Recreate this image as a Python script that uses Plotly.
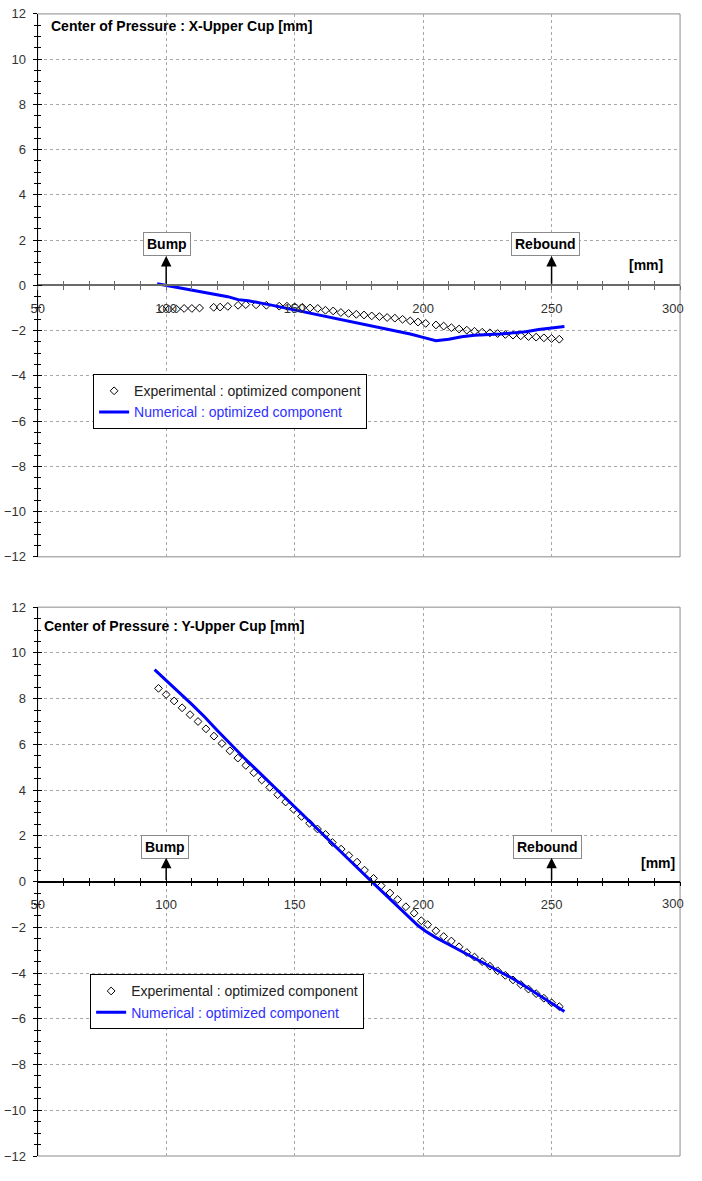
import plotly.graph_objects as go

# ---------------- data ----------------
# Top chart: X-Upper Cup
exp_x_top = [98.5, 101, 104, 107, 110, 113, 118.5, 121, 124, 128, 131, 135, 139, 144, 147, 150, 153, 156, 159,
             162, 165, 168, 171, 174, 177, 180, 183, 186, 189, 192, 195, 198, 201, 205, 208, 211, 214, 217, 220,
             223, 226, 229, 232, 235, 238, 241, 244, 247, 250, 253]
exp_y_top = [-1.05, -1.05, -1.05, -1.02, -1.02, -1.0, -0.97, -0.96, -0.93, -0.88, -0.85, -0.86, -0.88, -0.92, -0.92,
             -0.95, -0.97, -1.0, -1.02, -1.1, -1.13, -1.2, -1.24, -1.28, -1.31, -1.35, -1.38, -1.42, -1.45, -1.5,
             -1.57, -1.62, -1.68, -1.75, -1.8, -1.87, -1.93, -1.98, -2.03, -2.07, -2.1, -2.13, -2.17, -2.2, -2.23,
             -2.26, -2.29, -2.32, -2.35, -2.38]
num_x_top = [96.5, 100, 105, 110, 115, 120, 124, 128, 132, 140, 150, 160, 170, 175, 180, 185, 190, 195, 200, 205,
             210, 215, 220, 225, 230, 235, 240, 245, 250, 255]
num_y_top = [0.07, 0.0, -0.12, -0.22, -0.32, -0.42, -0.5, -0.63, -0.68, -0.85, -1.09, -1.33, -1.55, -1.66, -1.8,
             -1.93, -2.03, -2.15, -2.3, -2.45, -2.38, -2.27, -2.2, -2.18, -2.15, -2.1, -2.05, -1.95, -1.87, -1.82]

# Bottom chart: Y-Upper Cup
exp_x_bot = [97, 100, 103.1, 106.2, 109.3, 112.4, 115.5, 118.6, 121.7, 124.8, 127.9, 131, 134.1, 137.2, 140.3,
             143.4, 146.5, 149.6, 152.7, 155.8, 158.9, 162, 164.7, 168.1, 171.1, 174.3, 177.2, 180.7, 183.7,
             187.1, 190.1, 193.3, 196.5, 199.3, 201.8, 205, 208, 211, 214, 217, 220, 223, 226, 229, 232, 235,
             238, 241, 244, 247, 250, 253]
exp_y_bot = [8.45, 8.18, 7.9, 7.6, 7.3, 7.0, 6.68, 6.36, 6.04, 5.72, 5.4, 5.08, 4.76, 4.44, 4.12, 3.8, 3.48, 3.16,
             2.85, 2.55, 2.3, 2.06, 1.71, 1.42, 1.14, 0.85, 0.5, 0.14, -0.18, -0.5, -0.78, -1.1, -1.38, -1.71,
             -1.88, -2.15, -2.4, -2.6, -2.85, -3.1, -3.3, -3.5, -3.7, -3.9, -4.1, -4.3, -4.5, -4.7, -4.9, -5.1,
             -5.3, -5.47]
num_x_bot = [95.5, 100, 105, 110, 115, 120, 130, 140, 150, 158, 165, 170, 175, 180, 185, 190, 195, 198, 201, 205,
             210, 215, 220, 225, 230, 235, 240, 245, 250, 255]
num_y_bot = [9.27, 8.8, 8.3, 7.75, 7.2, 6.6, 5.45, 4.35, 3.25, 2.38, 1.63, 1.08, 0.54, 0.0, -0.54, -1.07, -1.6,
             -1.92, -2.17, -2.45, -2.75, -3.05, -3.35, -3.65, -3.95, -4.25, -4.6, -4.95, -5.3, -5.68]

titles = ["Center of Pressure : X-Upper Cup [mm]", "Center of Pressure : Y-Upper Cup [mm]"]
exp_name = "Experimental : optimized component"
num_name = "Numerical : optimized component"
x_range = [50, 300]
y_range = [-12, 12]
x_tick_vals = [50, 100, 150, 200, 250, 300]
x_tick_text = ["50", "100", "150", "200", "250", ""]   # "300" drawn as edge label below
x_edge_label = "300"
y_tick_vals = [-12, -10, -8, -6, -4, -2, 0, 2, 4, 6, 8, 10, 12]
marker_labels = ["Bump", "Rebound"]
marker_x = [100, 250]

# ---------------- style ----------------
FONT = "Liberation Sans, Arial, sans-serif"
W, H = 686, 1165          # page body has 8px default margin -> 702 x 1181 page
XDOM = [31 / W, 680 / W]
YDOMS = [[1 - 557 / H, 1 - 7 / H], [1 - 1164 / H, 1 - 608 / H]]
GRID = "#a8a8a8"
TICKC = "#333333"
BLUE = "#0000ff"

fig = go.Figure()

panels = [
    dict(xs="x", ys="y", xt="x3", xi="x4", yi="y3", leg="legend",
         ex=exp_x_top, ey=exp_y_top, nx=num_x_top, ny=num_y_top,
         axc="#6a6a6a", axw=2, tx=0.017, ty=0.978, mmx=294, mmy=0.9,
         boxy=1.85, heady=1.3, boxx=[100.3, 247.6], lblshift=-23),
    dict(xs="x2", ys="y2", xt="x5", xi="x6", yi="y4", leg="legend2",
         ex=exp_x_bot, ey=exp_y_bot, nx=num_x_bot, ny=num_y_bot,
         axc="#000000", axw=1.5, tx=0.006, ty=0.966, mmx=298.8, mmy=0.8,
         boxy=1.53, heady=1.04, boxx=[99.5, 248.4], lblshift=-22),
]

def lk(a):
    return "xaxis" + a[1:] if a.startswith("x") else "yaxis" + a[1:]

layout = dict(
    width=W, height=H, margin=dict(l=0, r=0, t=0, b=0),
    paper_bgcolor="white", plot_bgcolor="white",
    font=dict(family=FONT, size=13, color=TICKC),
    showlegend=True,
)
annotations = []
shapes = []

for i, p in enumerate(panels):
    ydom = YDOMS[i]
    mid = (ydom[0] + ydom[1]) / 2
    fig.add_trace(go.Scatter(
        x=p["ex"], y=p["ey"], mode="markers", name=exp_name,
        marker=dict(symbol="diamond-open", size=6, color="black", line=dict(width=1, color="black")),
        xaxis=p["xs"], yaxis=p["ys"], legend=p["leg"]))
    fig.add_trace(go.Scatter(
        x=p["nx"], y=p["ny"], mode="lines",
        name="<span style='color:#3030ff'>" + num_name + "</span>",
        line=dict(color=BLUE, width=3),
        xaxis=p["xs"], yaxis=p["ys"], legend=p["leg"]))
    for xa, ya in [(p["xt"], p["ys"]), (p["xi"], p["ys"]), (p["xs"], p["yi"])]:
        fig.add_trace(go.Scatter(x=[None], y=[None], xaxis=xa, yaxis=ya, showlegend=False,
                                 hoverinfo="skip", mode="markers"))

    layout[lk(p["xs"])] = dict(
        domain=XDOM, range=x_range, anchor=p["ys"], tickvals=x_tick_vals,
        showgrid=True, gridcolor=GRID, griddash="3px,3px", gridwidth=1,
        showticklabels=False, ticks="", showline=False, zeroline=False)
    layout[lk(p["ys"])] = dict(
        domain=ydom, range=y_range, anchor=p["xs"], tickvals=y_tick_vals,
        showgrid=True, gridcolor=GRID, griddash="3px,3px", gridwidth=1,
        showline=True, linecolor="black", linewidth=1, zeroline=False,
        ticks="outside", ticklen=4, tickcolor="black", tickwidth=1,
        minor=dict(dtick=0.5, ticks="outside", ticklen=3, tickcolor="black", showgrid=False),
        tickfont=dict(family=FONT, size=13, color=TICKC), ticklabelstandoff=4)
    layout[lk(p["yi"])] = dict(
        overlaying=p["ys"], range=y_range, anchor=p["xs"], side="left", tickvals=y_tick_vals,
        showgrid=False, showline=False, zeroline=False, showticklabels=False,
        ticks="inside", ticklen=4, tickcolor="black",
        minor=dict(dtick=0.5, ticks="inside", ticklen=3, tickcolor="black", showgrid=False))
    layout[lk(p["xt"])] = dict(
        overlaying=p["xs"], anchor="free", position=mid, range=x_range, side="bottom",
        tickvals=x_tick_vals, ticktext=x_tick_text, showgrid=False, zeroline=False,
        showline=True, linecolor=p["axc"], linewidth=p["axw"],
        ticks="outside", ticklen=4, tickcolor=p["axc"], tickwidth=1,
        minor=dict(dtick=10, ticks="outside", ticklen=4, tickcolor=p["axc"], showgrid=False),
        tickfont=dict(family=FONT, size=13, color=TICKC), ticklabelstandoff=7)
    layout[lk(p["xi"])] = dict(
        overlaying=p["xs"], anchor="free", position=mid, range=x_range, side="bottom",
        tickvals=x_tick_vals, showgrid=False, zeroline=False, showline=False, showticklabels=False,
        ticks="inside", ticklen=4, tickcolor=p["axc"], tickwidth=1,
        minor=dict(dtick=10, ticks="inside", ticklen=4, tickcolor=p["axc"], showgrid=False))

    shapes.append(dict(type="rect", xref=p["xs"] + " domain", yref=p["ys"] + " domain",
                       x0=0, x1=1, y0=0, y1=1, line=dict(color="#8a8a8a", width=1), layer="below"))

    # tick label at the right edge of the x axis (kept inside the page)
    annotations.append(dict(
        text=x_edge_label, xref=p["xs"], yref=p["ys"], x=x_range[1], y=0,
        xanchor="right", yanchor="middle", xshift=6, yshift=p["lblshift"], showarrow=False,
        font=dict(family=FONT, size=13, color=TICKC)))
    annotations.append(dict(
        text="<b>" + titles[i] + "</b>", xref=p["xs"] + " domain", yref=p["ys"] + " domain",
        x=p["tx"], y=p["ty"], xanchor="left", yanchor="middle",
        showarrow=False, font=dict(family=FONT, size=14, color="black")))
    annotations.append(dict(
        text="<b>[mm]</b>", xref=p["xs"], yref=p["ys"],
        x=p["mmx"], y=p["mmy"], xanchor="right", yanchor="middle",
        showarrow=False, font=dict(family=FONT, size=14, color="black")))
    for lbl, mx, bx in zip(marker_labels, marker_x, p["boxx"]):
        annotations.append(dict(
            text="<b>" + lbl + "</b>", xref=p["xs"], yref=p["ys"], x=bx, y=p["boxy"],
            showarrow=False, bordercolor="#8a8a8a", borderwidth=1, borderpad=3, bgcolor="white",
            font=dict(family=FONT, size=14, color="black")))
        annotations.append(dict(
            text="", xref=p["xs"], yref=p["ys"], x=mx, y=p["heady"], ax=mx, ay=0,
            axref=p["xs"], ayref=p["ys"], showarrow=True, arrowhead=2, arrowsize=1.4,
            arrowwidth=1.5, arrowcolor="black", standoff=0, startstandoff=0))

layout["legend"] = dict(
    x=87 / W, y=1 - 372 / H, xanchor="left", yanchor="top", bgcolor="white",
    bordercolor="black", borderwidth=1, font=dict(family=FONT, size=14, color="#222222"),
    tracegroupgap=0, itemwidth=30)
layout["legend2"] = dict(
    x=84 / W, y=1 - 980 / H, xanchor="left", yanchor="top", bgcolor="white",
    bordercolor="black", borderwidth=1, font=dict(family=FONT, size=14, color="#222222"),
    tracegroupgap=0, itemwidth=30)
layout["annotations"] = annotations
layout["shapes"] = shapes

fig.update_layout(**layout)
fig.write_html("out.html")
